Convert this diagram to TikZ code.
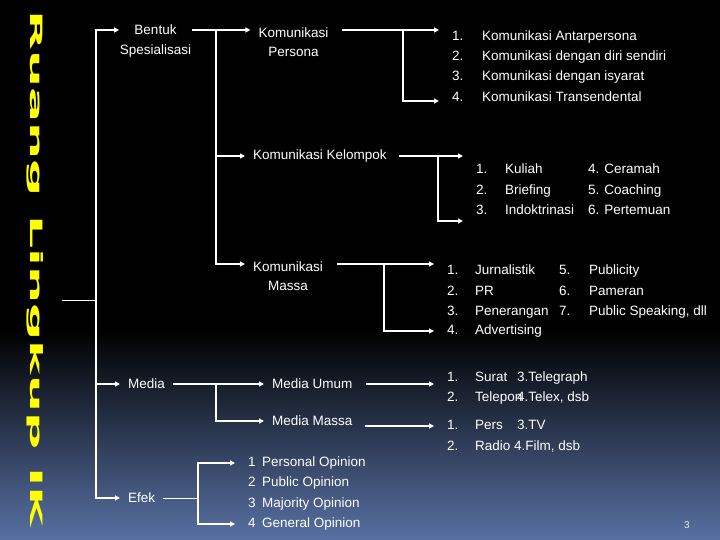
\documentclass[tikz,border=0pt]{standalone}
\usepackage{fontspec}
\setmainfont{Liberation Sans}
\newfontfamily\titlefont{DejaVu Sans}
\usetikzlibrary{arrows.meta}
\definecolor{slidebottom}{RGB}{88,113,163}
\definecolor{titleyellow}{RGB}{255,255,0}

\begin{document}
\begin{tikzpicture}[x=1pt, y=-1pt,
    topic/.style={text=white, font=\fontsize{13.5}{19.5}\selectfont, align=center, inner xsep=8pt, inner ysep=2pt},
    row/.style={text=white, font=\fontsize{13.5}{16}\selectfont, anchor=west, inner xsep=13pt, inner ysep=0pt, text height=10pt, text depth=3pt},
    stem/.style={draw=white, line width=1.5pt},
    link/.style={stem, -{Triangle[length=5pt, width=5pt]}},
    wire/.style={draw=white, line width=0.8pt}]
  \useasboundingbox (0, 0) rectangle (720, 540);
  \fill[black] (0, 0) rectangle (720, 540);
  \shade[top color=black, bottom color=slidebottom] (0, 330) rectangle (720, 540);

  % title along the left edge
  \node (title) [rotate=-90, anchor=base west, text=titleyellow, inner sep=0pt] at (30, 10)
    {\resizebox{517pt}{\height}{\titlefont\bfseries\fontsize{17}{17}\selectfont Ruang Lingkup IK}};

  \node (bentuk) [topic, inner xsep=0.5pt] at (155.5, 41) {Bentuk\\Spesialisasi};
  \node (persona) [topic] at (293.5, 42) {Komunikasi\\Persona};
  \node (kelompok) [topic, anchor=west] at (245, 156) {Komunikasi Kelompok};
  \node (kmassa) [topic] at (288, 276) {Komunikasi\\Massa};
  \node (media) [topic, anchor=west] at (120, 384) {Media};
  \node (umum) [topic, anchor=west] at (264, 384) {Media Umum};
  \node (mmassa) [topic, anchor=west] at (264, 421) {Media Massa};
  \node (efek) [topic, anchor=west] at (120, 498) {Efek};

  \node (p1) [row] at (439, 37) {\makebox[30pt][l]{1.}Komunikasi Antarpersona};
  \node (p2) [row] at (439, 57) {\makebox[30pt][l]{2.}Komunikasi dengan diri sendiri};
  \node (p3) [row] at (439, 77) {\makebox[30pt][l]{3.}Komunikasi dengan isyarat};
  \node (p4) [row] at (439, 98) {\makebox[30pt][l]{4.}Komunikasi Transendental};

  \node (k1) [row] at (463, 170) {\makebox[29pt][l]{1.}\makebox[83pt][l]{Kuliah}4. Ceramah};
  \node (k2) [row] at (463, 191) {\makebox[29pt][l]{2.}\makebox[83pt][l]{Briefing}5. Coaching};
  \node (k3) [row] at (463, 211) {\makebox[29pt][l]{3.}\makebox[83pt][l]{Indoktrinasi}6. Pertemuan};

  \node (m1) [row] at (434, 271) {\makebox[28pt][l]{1.}\makebox[84pt][l]{Jurnalistik}\makebox[30pt][l]{5.}Publicity};
  \node (m2) [row] at (434, 292) {\makebox[28pt][l]{2.}\makebox[84pt][l]{PR}\makebox[30pt][l]{6.}Pameran};
  \node (m3) [row] at (434, 312) {\makebox[28pt][l]{3.}\makebox[84pt][l]{Penerangan}\makebox[30pt][l]{7.}Public Speaking, dll};
  \node (m4) [row] at (434, 331) {\makebox[28pt][l]{4.}Advertising};

  \node (u1) [row] at (434, 378) {\makebox[28pt][l]{1.}\makebox[42pt][l]{Surat}3.Telegraph};
  \node (u2) [row] at (434, 398) {\makebox[28pt][l]{2.}\makebox[42pt][l]{Telepon}4.Telex, dsb};

  \node (v1) [row] at (434, 426) {\makebox[28pt][l]{1.}\makebox[42pt][l]{Pers}3.TV};
  \node (v2) [row] at (434, 447) {\makebox[28pt][l]{2.}Radio 4.Film, dsb};

  \node (e1) [row] at (235, 463) {\makebox[14pt][l]{1}Personal Opinion};
  \node (e2) [row] at (235, 483) {\makebox[14pt][l]{2}Public Opinion};
  \node (e3) [row] at (235, 504) {\makebox[14pt][l]{3}Majority Opinion};
  \node (e4) [row] at (235, 524) {\makebox[14pt][l]{4}General Opinion};

  \node (page) [text=white!85!slidebottom, font=\fontsize{10}{12}\selectfont] at (687, 525) {3};

  % trunk
  \coordinate (root) at (62, 300);
  \coordinate (trunk) at (96, 300);
  \draw[wire] (root) -- (trunk);
  \draw[link] (trunk) |- ([yshift=11pt]bentuk.west);
  \draw[link] (trunk) |- (media.west);
  \draw[link] (trunk) |- (efek.west);

  % bentuk spesialisasi
  \coordinate (bfork) at (216, 30);
  \draw[link] ([yshift=11pt]bentuk.east) -- ([yshift=12pt]persona.west);
  \draw[link] (bfork) |- (kelompok.west);
  \draw[link] (bfork) |- ([yshift=12pt]kmassa.west);

  \coordinate (pfork) at (403, 30);
  \draw[stem, shorten <=5pt] ([yshift=12pt]persona.east) -- (pfork);
  \draw[link] (pfork) -- (pfork -| p1.west);
  \draw[link] (pfork) |- ([yshift=-3pt]p4.west);

  \coordinate (kfork) at (438, 156);
  \draw[stem, shorten <=4pt] (kelompok.east) -- (kfork);
  \draw[link] (kfork) -- (kfork -| k1.west);
  \draw[link] (kfork) |- ([yshift=-10pt]k3.west);

  \coordinate (mfork) at (384, 264);
  \draw[stem, shorten <=6pt] ([yshift=12pt]kmassa.east) -- (mfork);
  \draw[link] (mfork) -- (mfork -| m1.west);
  \draw[link] (mfork) |- (m4.west);

  % media
  \coordinate (dfork) at (216, 384);
  \draw[stem] (media.east) -- (dfork);
  \draw[link] (dfork) |- (umum.west);
  \draw[link] (dfork) |- (mmassa.west);
  \draw[link, shorten <=5pt] (umum.east) -- (umum.east -| u1.west);
  \draw[link, shorten <=4pt] (mmassa.east |- v1.west) -- (v1.west);

  % efek
  \coordinate (efork) at (198, 498);
  \draw[wire] (efek.east) -- (efork);
  \draw[link] (efork) |- (e1.west);
  \draw[link] (efork) |- (e4.west);
\end{tikzpicture}
\end{document}
